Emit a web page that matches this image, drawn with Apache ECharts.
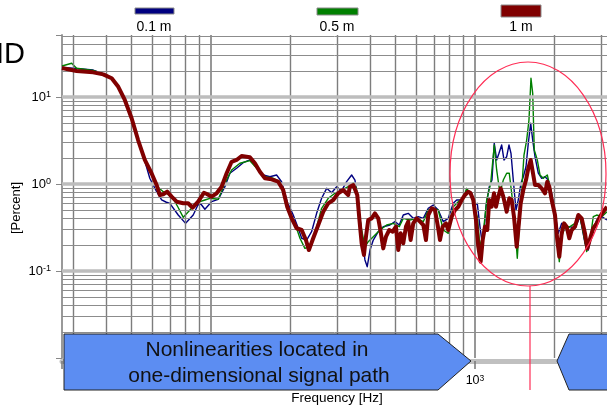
<!DOCTYPE html>
<html><head><meta charset="utf-8">
<script src="https://cdn.jsdelivr.net/npm/echarts@6/dist/echarts.min.js"></script>
<style>html,body{margin:0;padding:0;background:#fff}#c{width:607px;height:406px}</style>
</head><body><div id="c"></div>
<script>
// ---- data (frequency in Hz, value in percent) ----
const seriesNames = ['0.1 m', '0.5 m', '1 m'];
const seriesColors = ['#000080', '#008000', '#800000'];

const freq01 = [27.3,30.1,35.8,40.3,42.2,44.6,47.2,50.1,53.0,56.2,58.7,62.3,65.1,67.5,69.9,75.2,80.2,85.7,89.3,91.6,94.9,100.6,106.6,113.0,118.0,125.1,132.5,140.5,148.9,157.8,167.3,177.3,185.2,194.5,205.0,214.2,220.7,230.4,240.6,251.4,262.6,274.4,286.6,299.4,312.6,326.6,341.2,351.2,361.4,372.3,383.1,390.9,400.4,412.0,430.3,449.5,476.4,497.7,516.8,535.1,558.8,583.8,610.0,637.2,665.5,695.0,726.1,758.5,792.3,827.6,852.4,890.6,930.3,971.6,1000,1020.3,1044.5,1069.5,1100.7,1132.9,1159.7,1183.2,1208.2,1232.8,1262.0,1287.7,1318.5,1345.3,1369.0,1396.6,1429.9,1458.8,1493.4,1524.1,1560.3,1591.9,1625.6,1654.4,1687.8,1737.1,1789.3,1841.6,1895.3,1952.2,2009.2,2068.0,2130.2,2192.4,2290.2,2392.2,2498.6,2610.0,2686.3,2767.0,2890.6,3019.5,3162];
const val01 = [21.8,21.4,20.4,17.9,16.3,13.1,9.24,5.69,3.20,1.84,1.163,0.816,0.655,0.621,0.600,0.440,0.353,0.440,0.574,0.589,0.512,0.626,0.667,0.931,1.33,1.515,1.757,1.89,1.58,1.269,1.213,1.269,1.063,0.626,0.440,0.310,0.238,0.227,0.283,0.460,0.685,0.892,0.794,0.931,0.838,1.063,1.269,1.11,0.600,0.271,0.134,0.112,0.174,0.227,0.283,0.323,0.338,0.369,0.338,0.440,0.460,0.403,0.421,0.403,0.526,0.574,0.502,0.369,0.403,0.600,0.655,0.655,0.853,0.782,0.574,0.600,0.323,0.190,0.548,0.931,1.11,2.94,1.89,2.254,2.81,1.89,2.06,2.81,2.254,1.11,0.502,0.655,1.019,1.213,1.58,2.94,4.99,3.20,2.06,1.33,1.163,1.213,1.11,0.782,0.460,0.271,0.353,0.296,0.323,0.310,0.421,0.208,0.174,0.271,0.386,0.421,0.386];

const freq05 = [27.3,29.7,31.0,35.8,39.1,42.1,44.6,47.2,50.1,53.0,56.2,59.6,62.3,66.0,68.7,71.9,75.0,78.6,84.5,90.9,94.9,99.1,106.6,113.0,119.8,128.8,140.5,151.1,160.2,172.2,182.5,194.5,208.0,217.4,227.0,237.1,247.7,262.6,278.2,295.0,312.6,331.1,346.0,355.7,361.4,372.3,383.1,394.3,412.0,436.7,463.1,490.4,516.8,535.1,567.3,601.5,637.2,665.5,695.0,726.1,758.5,792.3,827.6,864.6,903.3,930.3,971.6,1000,1020.3,1044.5,1075.0,1107.5,1147.0,1183.2,1208.2,1243.5,1280.1,1318.5,1348.6,1377.2,1409.0,1446.2,1471.6,1502.8,1533.2,1569.6,1601.4,1629.6,1654.4,1677.2,1722.0,1762.8,1814.5,1878.9,1935.2,1991.8,2039.5,2086.0,2130.2,2192.4,2290.2,2392.2,2498.6,2587.3,2648.8,2726.4,2805.7,2890.6,3019.5,3162];
const val05 = [22.7,24.4,21.4,20.2,18.6,16.4,13.1,9.24,5.69,3.20,1.89,1.33,0.948,0.816,0.767,0.685,0.544,0.414,0.526,0.626,0.655,0.685,0.667,1.019,1.45,1.73,1.853,1.45,1.213,1.163,1.063,0.526,0.353,0.238,0.182,0.190,0.271,0.526,0.685,0.782,0.853,0.931,1.035,0.900,0.548,0.296,0.190,0.217,0.248,0.296,0.338,0.353,0.323,0.403,0.386,0.403,0.369,0.502,0.526,0.502,0.296,0.271,0.548,0.626,0.685,0.892,0.715,0.502,0.421,0.190,0.271,0.655,1.019,2.81,1.45,0.782,1.11,1.33,1.33,0.782,0.421,0.140,0.323,0.853,2.15,3.20,5.44,16.4,11.03,2.46,1.89,1.27,1.163,1.27,0.853,0.502,0.271,0.128,0.248,0.323,0.323,0.353,0.421,0.248,0.167,0.227,0.421,0.440,0.421,0.480];

const freq1 = [27.3,31.0,35.8,39.1,42.1,44.6,47.2,50.1,53.0,56.2,59.6,62.3,64.1,66.0,68.3,71.0,74.2,78.6,82.0,85.3,89.5,94.1,96.6,100.6,105.1,109.8,114.7,119.8,125.1,130.7,140.5,146.8,153.3,160.2,169.8,179.8,187.8,194.5,202.2,211.2,220.7,229.0,235.0,244.0,255.0,266.3,278.2,290.6,303.5,317.0,321.8,331.1,336.1,346.0,351.2,358.3,365.2,372.3,379.8,386.5,394.3,406.2,418.0,430.3,439.4,449.5,460.2,473.6,487.9,502.1,512.3,523.1,535.1,547.8,558.8,570.7,583.8,601.5,619.1,637.2,652.3,665.5,685.5,705.5,722.3,736.9,754.5,776.6,792.3,816.1,840.0,864.6,890.6,916.6,943.2,961.6,985.4,1008.8,1029.2,1051.0,1069.5,1091.1,1113.2,1132.9,1156.8,1180.3,1201.0,1225.5,1251.3,1280.1,1318.5,1348.6,1377.2,1405.1,1438.8,1458.8,1489.6,1524.1,1560.3,1591.9,1625.6,1654.4,1687.8,1737.1,1789.3,1841.6,1878.9,1911.6,1952.2,2009.2,2049.8,2086.0,2130.2,2173.3,2225.0,2276.3,2324.5,2392.2,2462.1,2535.9,2610.0,2662.8,2743.1,2805.7,2890.6,2974.9,3062.0,3162];
const val1 = [21.5,19.9,19.2,18.2,16.4,13.1,9.24,5.69,3.20,1.89,1.33,0.974,0.747,0.762,0.816,0.715,0.626,0.600,0.600,0.534,0.626,0.794,0.767,0.715,0.782,0.931,1.33,1.80,1.89,2.10,2.03,1.73,1.385,1.163,1.132,1.063,0.853,0.548,0.403,0.310,0.296,0.227,0.174,0.238,0.338,0.480,0.600,0.655,0.782,0.853,0.816,0.748,0.931,0.974,0.992,0.747,0.386,0.208,0.153,0.248,0.386,0.403,0.460,0.403,0.283,0.182,0.248,0.296,0.283,0.323,0.174,0.271,0.208,0.323,0.369,0.227,0.353,0.403,0.369,0.338,0.227,0.440,0.526,0.502,0.338,0.227,0.323,0.353,0.296,0.421,0.502,0.548,0.655,0.748,0.816,0.788,0.655,0.386,0.190,0.128,0.227,0.323,0.296,0.655,0.548,0.782,0.548,0.715,0.892,0.715,0.480,0.685,0.655,0.421,0.190,0.296,0.600,0.853,1.11,1.515,1.89,1.385,0.974,0.974,0.892,0.782,1.063,0.931,0.655,0.440,0.227,0.146,0.271,0.353,0.323,0.238,0.296,0.323,0.440,0.403,0.271,0.182,0.248,0.310,0.353,0.421,0.480,0.548];

// grid-line positions (axis tick values)
const xGridValues = [30,40,50,60,70,80,90,100,200,300,400,500,600,700,800,900,1000,2000,3000];
const yGridValues = [0.02,0.03,0.04,0.05,0.06,0.07,0.08,0.09,0.1,0.2,0.3,0.4,0.5,0.6,0.7,0.8,0.9,1,2,3,4,5,6,7,8,9,10,20,30,40,50];
const xMajor = [100, 1000];
const yMajor = [0.1, 1, 10];

const FONT = 'Liberation Sans, Arial, Helvetica, sans-serif';

function pow10Label(v, hide) {
  const e = Math.log10(v); const r = Math.round(e);
  if (Math.abs(e - r) > 1e-6) return '';
  if (hide && hide.indexOf(r) >= 0) return '';
  return '10{s|' + r + '}';
}

const chart = echarts.init(document.getElementById('c'), null, {renderer: 'canvas'});
const xs = [freq01, freq05, freq1], ys = [val01, val05, val1];
const widths = [1.4, 1.4, 4];

const option = {
  animation: false,
  backgroundColor: '#fff',
  grid: {left: 62, right: 0, top: 35, bottom: 48, containLabel: false, outerBoundsMode: 'none'},
  xAxis: {
    type: 'log', logBase: 10, min: 27.3, max: 3162, offset: 3,
    splitLine: {show: false}, minorSplitLine: {show: false},
    axisLine: {show: true, lineStyle: {color: '#c0c0c0', width: 5}},
    axisTick: {show: true, length: 8, lineStyle: {color: '#777', width: 1.5}},
    axisLabel: {margin: 13, color: '#000', fontFamily: FONT, fontSize: 12.5,
      showMinLabel: true, showMaxLabel: true,
      formatter: v => pow10Label(v, []),
      rich: {s: {fontSize: 8.5, verticalAlign: 'top', fontFamily: FONT, color: '#000'}}}
  },
  yAxis: {
    type: 'log', logBase: 10, min: 0.01, max: 51.6,
    splitLine: {show: false}, minorSplitLine: {show: false},
    axisLine: {show: true, lineStyle: {color: '#999', width: 2}},
    axisTick: {show: true, length: 6, lineStyle: {color: '#888', width: 1}},
    axisLabel: {margin: 11, color: '#000', fontFamily: FONT, fontSize: 13,
      formatter: v => pow10Label(v, [-2]),
      rich: {s: {fontSize: 9, verticalAlign: 'top', fontFamily: FONT, color: '#000'}}}
  },
  series: [
    {
      type: 'line', data: [], z: 1, silent: true,
      markLine: {
        silent: true, symbol: ['none', 'none'], label: {show: false}, animation: false,
        data: xGridValues.map(v => ({xAxis: v, lineStyle: {type: 'solid', color: '#7d7d7d', width: xMajor.includes(v) ? 1.6 : 1.4}}))
          .concat(yGridValues.map(v => ({yAxis: v, lineStyle: yMajor.includes(v) ? {type: 'solid', color: '#bdbdbd', width: 3.5} : {type: 'solid', color: '#8c8c8c', width: 1}})))
      }
    }
  ].concat(seriesNames.map((n, k) => ({
    name: n, type: 'line', showSymbol: false, symbol: 'none', smooth: false, z: 3 + k,
    lineStyle: {color: seriesColors[k], width: widths[k], join: 'round'},
    itemStyle: {color: seriesColors[k]},
    data: xs[k].map((f, i) => [f, ys[k][i]])
  }))),
  graphic: [
    {type: 'text', x: -4, y: 55, z: 100, style: {text: 'ID', font: '29px ' + FONT, fill: '#000', align: 'left', textAlign: 'left', verticalAlign: 'middle', textVerticalAlign: 'middle'}},
    // legend
    {type: 'rect', z: 100, shape: {x: 135, y: 8, width: 39, height: 6}, style: {fill: seriesColors[0], stroke: '#8a8a8a', lineWidth: 1}},
    {type: 'text', x: 154, y: 27, z: 100, style: {text: seriesNames[0], font: '14px ' + FONT, fill: '#000', align: 'center', textAlign: 'center', verticalAlign: 'middle', textVerticalAlign: 'middle'}},
    {type: 'rect', z: 100, shape: {x: 317, y: 8, width: 41, height: 7}, style: {fill: seriesColors[1], stroke: '#8a8a8a', lineWidth: 1}},
    {type: 'text', x: 337, y: 27, z: 100, style: {text: seriesNames[1], font: '14px ' + FONT, fill: '#000', align: 'center', textAlign: 'center', verticalAlign: 'middle', textVerticalAlign: 'middle'}},
    {type: 'rect', z: 100, shape: {x: 501, y: 5, width: 40, height: 12}, style: {fill: seriesColors[2], stroke: '#8a8a8a', lineWidth: 1}},
    {type: 'text', x: 521, y: 27, z: 100, style: {text: seriesNames[2], font: '14px ' + FONT, fill: '#000', align: 'center', textAlign: 'center', verticalAlign: 'middle', textVerticalAlign: 'middle'}},
    // axis titles
    {type: 'text', x: 16, y: 208, rotation: Math.PI / 2, z: 100, style: {text: '[Percent]', font: '13px ' + FONT, fill: '#000', align: 'center', textAlign: 'center', verticalAlign: 'middle', textVerticalAlign: 'middle'}},
    {type: 'text', x: 337, y: 398, z: 100, style: {text: 'Frequency [Hz]', font: '13.5px ' + FONT, fill: '#000', align: 'center', textAlign: 'center', verticalAlign: 'middle', textVerticalAlign: 'middle'}},
    // annotation: ellipse and pointer
    {type: 'ellipse', z: 110, shape: {cx: 528, cy: 174, rx: 78, ry: 112}, style: {fill: 'none', stroke: '#ff2d55', lineWidth: 1.2}},
    {type: 'line', z: 110, shape: {x1: 530, y1: 286, x2: 530, y2: 390}, style: {stroke: '#ff2d55', lineWidth: 1.2}},
    // arrows
    {type: 'polygon', z: 120, shape: {points: [[64, 334], [438, 334], [471, 361], [438, 390], [64, 390]]}, style: {fill: '#5c8df2', stroke: '#222', lineWidth: 1}},
    {type: 'polygon', z: 120, shape: {points: [[612, 334], [569, 334], [557, 361], [569, 390], [612, 390]]}, style: {fill: '#5c8df2', stroke: '#222', lineWidth: 1}},
    {type: 'text', x: 257, y: 350, z: 130, style: {text: 'Nonlinearities located in', font: '21px ' + FONT, fill: '#111', align: 'center', textAlign: 'center', verticalAlign: 'middle', textVerticalAlign: 'middle'}},
    {type: 'text', x: 259, y: 376, z: 130, style: {text: 'one-dimensional signal path', font: '21px ' + FONT, fill: '#111', align: 'center', textAlign: 'center', verticalAlign: 'middle', textVerticalAlign: 'middle'}}
  ]
};
chart.setOption(option);
</script></body></html>
